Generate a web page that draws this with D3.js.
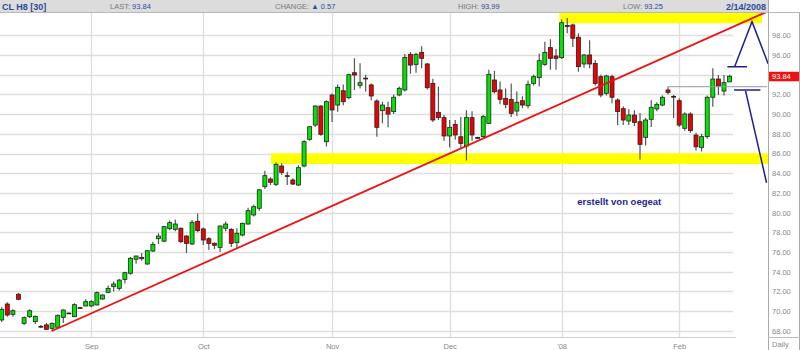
<!DOCTYPE html>
<html><head><meta charset="utf-8">
<script src="https://cdn.jsdelivr.net/npm/d3@7/dist/d3.min.js"></script>
<style>
html,body{margin:0;padding:0;background:#fff;}
svg{display:block;font-family:"Liberation Sans",Arial,sans-serif;}
</style></head>
<body>
<svg id="c" width="800" height="350"></svg>
<script>
// ---------- DATA ----------
const openP = [69.10,70.72,69.67,71.71,68.76,69.43,68.93,68.45,68.60,68.25,68.36,69.37,69.80,69.43,70.35,70.52,70.52,70.62,71.23,71.91,72.48,72.31,73.22,73.84,75.26,75.45,74.78,76.10,77.35,77.10,78.37,78.30,78.41,77.62,76.81,79.12,78.34,77.35,76.88,76.47,78.41,78.30,76.95,77.72,78.84,79.76,80.44,82.63,83.41,82.87,84.73,83.75,83.31,82.80,84.73,87.44,88.89,90.82,87.20,91.94,90.92,92.37,91.67,94.20,92.92,93.65,92.96,91.33,90.35,90.65,90.25,91.94,92.45,96.07,95.05,96.27,95.09,93.12,90.18,89.64,87.78,88.96,87.70,86.76,89.64,87.62,87.71,89.06,93.46,92.45,91.60,91.50,90.31,91.36,90.85,93.12,93.70,95.05,96.75,95.90,95.73,99.00,99.05,97.80,95.09,96.00,95.15,93.80,92.11,93.80,91.43,90.55,89.30,89.90,89.23,87.64,89.47,90.52,90.92,92.45,91.80,91.36,88.56,90.01,87.87,86.62,87.71,91.71,93.56,92.34,93.27];
const highP = [70.40,70.89,70.20,71.85,69.45,70.20,69.55,68.60,68.80,68.85,69.65,70.20,69.85,70.80,70.45,71.20,71.10,72.00,71.70,72.60,73.00,73.25,74.00,75.50,75.65,75.90,76.20,77.05,77.90,78.65,79.20,79.30,78.50,77.70,79.25,79.90,78.50,77.50,77.00,78.70,79.10,78.40,78.40,79.00,80.50,80.80,82.40,84.25,83.58,85.10,85.00,84.15,83.50,84.80,87.35,88.80,90.90,90.90,91.40,92.10,93.00,93.00,94.10,95.66,95.15,94.00,93.10,91.50,91.26,91.26,92.00,92.80,96.10,96.30,96.20,96.90,95.20,93.60,92.80,89.90,89.40,89.40,89.70,90.40,90.30,87.70,89.90,94.50,94.40,93.30,92.60,93.10,92.30,91.80,93.40,94.00,96.15,97.35,97.60,96.60,99.60,99.75,99.20,98.20,96.10,97.50,95.50,94.00,94.00,94.00,91.60,90.80,90.50,90.40,90.10,89.60,91.40,91.20,91.90,92.72,91.95,91.60,90.20,90.20,88.10,88.00,91.90,94.65,93.97,93.97,93.99];
const lowP = [68.90,69.43,69.43,71.10,68.60,69.30,68.70,68.30,68.10,68.00,68.30,68.80,69.70,69.40,70.25,70.50,70.40,70.60,71.15,71.80,72.00,72.10,72.80,73.70,74.80,75.10,74.70,76.00,76.80,77.00,78.20,78.10,76.90,75.90,76.70,78.00,76.70,76.20,76.30,76.00,78.10,76.50,76.40,77.60,78.80,79.60,80.20,82.40,82.80,82.70,83.82,82.80,82.80,82.70,84.60,87.30,88.70,87.80,86.70,89.20,90.25,90.90,91.50,92.45,92.60,92.30,91.40,87.70,89.06,88.66,90.00,91.80,92.30,94.10,94.20,94.65,92.50,89.20,89.40,87.30,86.60,87.40,86.50,85.30,87.30,87.50,87.60,89.00,92.10,91.00,90.60,89.70,89.80,90.60,90.60,92.90,92.80,94.90,94.50,94.50,95.60,98.20,96.80,94.30,94.70,94.65,92.90,91.70,91.90,91.10,88.90,88.90,88.90,88.80,85.40,86.80,88.70,90.30,90.80,92.00,89.60,88.70,88.30,88.10,86.30,86.20,87.50,90.75,91.94,91.90,93.25];
const closeP = [70.18,69.60,70.04,71.20,69.33,70.04,69.47,68.40,68.15,68.76,69.57,70.11,69.75,70.65,70.30,70.96,70.96,71.87,71.63,72.31,72.75,73.15,73.90,75.36,75.59,75.32,76.13,76.78,77.62,78.57,78.98,78.84,77.05,76.88,79.02,78.17,77.22,76.88,76.68,78.64,78.84,76.88,77.90,78.91,80.20,80.60,82.31,83.75,83.08,84.90,84.09,83.70,82.90,84.56,87.20,88.72,90.82,87.95,91.26,90.42,92.72,91.26,94.00,93.97,93.19,93.60,91.84,88.66,90.92,90.00,91.71,92.62,95.76,94.98,96.07,95.66,92.68,89.40,89.64,87.78,88.66,87.88,87.03,89.64,87.88,87.58,89.74,94.04,92.27,91.50,90.99,90.08,91.20,90.92,93.02,93.80,95.42,96.27,95.66,95.66,99.28,98.90,97.70,94.82,96.00,95.09,93.12,91.94,93.87,91.71,90.25,89.40,89.90,89.16,86.93,89.40,90.69,90.99,91.71,92.20,91.75,88.89,90.01,88.32,86.68,87.71,91.71,93.56,92.86,93.19,93.84];

const monthLabels = ["Sep","Oct","Nov","Dec","'08","Feb"];
const monthStartIndex = [16,36,59,80,100,121];
const yTicks = [68,70,72,74,76,78,80,82,84,86,88,90,92,94,96,98];

// header info
const symbol = "CL H8 [30]";
const lastPrice = 93.84, change = 0.57, highPrice = 93.99, lowPrice = 93.25;
const dateLabel = "2/14/2008";
const annotationText = "erstellt von oegeat";

// drawn annotations, in (bar index, price) coordinates
const trendLine = [[8.94,67.98],[137.0,100.48]];
const supportBand = {from:48.1, to:137.0, lo:84.93, hi:86.02};
const resistBand = {from:99.6, to:135.8, lo:99.22, hi:100.3};
const grayLine = [[118.9,92.78],[136.7,92.78]];
const blueUpper = [[130.9,94.81],[134.0,99.38],[136.9,95.09]];
const blueUpperBar = [[129.6,94.81],[133.1,94.81]];
const blueLowerBar = [[130.8,92.45],[135.5,92.45]];
const blueLower = [[132.85,92.35],[136.6,83.03]];

// ---------- CHART ----------
const bars = openP.map((o,i)=>({i, o, h:highP[i], l:lowP[i], c:closeP[i]}));
const svg = d3.select("#c");
const W = 800, H = 350;
const plotRight = 768, gridRight = 733, headerH = 12.5, axisY = 337.5;

const x = d3.scaleLinear().domain([0, bars.length-1]).range([1.7, 729.6]);
const y = d3.scaleLinear().domain([68, 98]).range([330.8, 35.3]);

svg.append("rect").attr("width",W).attr("height",H).attr("fill","#fff");

svg.append("defs").append("clipPath").attr("id","plot")
  .append("rect").attr("x",0).attr("y",headerH).attr("width",plotRight).attr("height",axisY-headerH);

// grid
const grid = svg.append("g");
grid.selectAll("line.h").data(yTicks).join("line")
  .attr("x1",0).attr("x2",gridRight)
  .attr("y1",d=>Math.round(y(d))+0.5).attr("y2",d=>Math.round(y(d))+0.5)
  .attr("stroke","#dedede").attr("stroke-width",1.3);
grid.selectAll("line.v").data(monthStartIndex).join("line")
  .attr("x1",d=>Math.round(x(d))+0.5).attr("x2",d=>Math.round(x(d))+0.5)
  .attr("y1",headerH).attr("y2",axisY)
  .attr("stroke","#dedede").attr("stroke-width",1.3);

const plot = svg.append("g").attr("clip-path","url(#plot)");

// yellow bands
[supportBand, resistBand].forEach(b=>{
  plot.append("rect")
    .attr("x",x(b.from)).attr("width",x(b.to)-x(b.from))
    .attr("y",y(b.hi)).attr("height",y(b.lo)-y(b.hi))
    .attr("fill","#ffff00");
});

// candles
const cg = plot.append("g");
cg.selectAll("line.w").data(bars).join("line")
  .attr("x1",d=>x(d.i)).attr("x2",d=>x(d.i))
  .attr("y1",d=>y(d.h)).attr("y2",d=>y(d.l))
  .attr("stroke","#555").attr("stroke-width",1.2);
cg.selectAll("rect.b").data(bars).join("rect")
  .attr("x",d=>x(d.i)-2).attr("width",4)
  .attr("y",d=>y(Math.max(d.o,d.c)))
  .attr("height",d=>Math.max(0.8, Math.abs(y(d.o)-y(d.c))))
  .attr("fill",d=>d.c>=d.o?"#00e600":"#ee0000")
  .attr("stroke","#222").attr("stroke-width",0.8);

// lines
const ln = d3.line().x(d=>x(d[0])).y(d=>y(d[1]));
plot.append("path").attr("d",ln(grayLine)).attr("stroke","#999").attr("stroke-width",1).attr("fill","none");
plot.append("path").attr("d",ln(trendLine)).attr("stroke","#ee1111").attr("stroke-width",1.8).attr("fill","none");
[blueUpper, blueUpperBar, blueLowerBar, blueLower].forEach(p=>{
  plot.append("path").attr("d",ln(p)).attr("stroke","#1f1f8f").attr("stroke-width",1.5).attr("fill","none");
});

// annotation text
svg.append("text").attr("x",x(102.8)).attr("y",204.5)
  .attr("font-size","9.5px").attr("font-weight","bold").attr("fill","#1f1f8f")
  .text(annotationText);

// header
svg.append("rect").attr("x",0).attr("y",0).attr("width",plotRight).attr("height",headerH)
  .attr("fill","#dcdcdc");
svg.append("line").attr("x1",0).attr("x2",W).attr("y1",headerH).attr("y2",headerH)
  .attr("stroke","#b8b8b8").attr("stroke-width",1);
const hdr = svg.append("g").attr("font-size","7.5px");
hdr.append("text").attr("x",2).attr("y",9.5).attr("font-size","9px").attr("font-weight","bold").attr("fill","#2b4c9b").text(symbol);
function field(xp, label, val){
  const t = hdr.append("text").attr("x",xp).attr("y",9);
  t.append("tspan").attr("fill","#777").text(label);
  t.append("tspan").attr("fill","#2b4c9b").text(val);
}
field(110,"LAST: ", lastPrice.toFixed(2));
field(275,"CHANGE: ", (change>=0?"\u25B2 ":"\u25BC ")+change.toFixed(2));
field(458,"HIGH: ", highPrice.toFixed(2));
field(623,"LOW: ", lowPrice.toFixed(2));
hdr.append("text").attr("x",766).attr("y",9.8).attr("text-anchor","end").attr("font-size","9px").attr("font-weight","bold").attr("fill","#2b4c9b").text(dateLabel);

// axis frame lines
svg.append("line").attr("x1",0).attr("x2",gridRight+3).attr("y1",axisY).attr("y2",axisY).attr("stroke","#cfcfcf").attr("stroke-width",1.2);
svg.append("line").attr("x1",plotRight+0.5).attr("x2",plotRight+0.5).attr("y1",0).attr("y2",H).attr("stroke","#aaa").attr("stroke-width",1);
svg.append("line").attr("x1",799.5).attr("x2",799.5).attr("y1",headerH).attr("y2",H).attr("stroke","#aaa").attr("stroke-width",1);
svg.append("line").attr("x1",plotRight).attr("x2",W).attr("y1",axisY).attr("y2",axisY).attr("stroke","#bbb").attr("stroke-width",1);

// y axis (labels hidden under the last-price tag are left out, as in the reference)
const tagY = y(lastPrice);
const labelTicks = yTicks.filter(v => Math.abs(y(v) - tagY) > 8);
const ya = svg.append("g").attr("transform",`translate(${plotRight},0)`)
  .call(d3.axisRight(y).tickValues(labelTicks).tickFormat(d3.format(".2f")).tickSize(0).tickPadding(4));
ya.select(".domain").remove();
ya.selectAll("text").attr("font-size","7.5px").attr("fill","#888").attr("font-family","Liberation Sans, Arial, sans-serif");

// x axis
const xa = svg.append("g").attr("transform",`translate(0,${axisY})`)
  .call(d3.axisBottom(x).tickValues(monthStartIndex).tickFormat((d,i)=>monthLabels[i]).tickSize(0).tickPadding(6));
xa.select(".domain").remove();
xa.selectAll("text").attr("font-size","7.5px").attr("fill","#888").attr("font-family","Liberation Sans, Arial, sans-serif");

svg.append("text").attr("x",772).attr("y",346.5).attr("font-size","7.5px").attr("fill","#888").text("Daily");

// last price tag
svg.append("rect").attr("x",769).attr("y",tagY-4.5).attr("width",30).attr("height",9.5).attr("fill","#ee1111");
svg.append("text").attr("x",772).attr("y",tagY+3).attr("font-size","7.5px").attr("fill","#fff").text(lastPrice.toFixed(2));
</script>
</body></html>
